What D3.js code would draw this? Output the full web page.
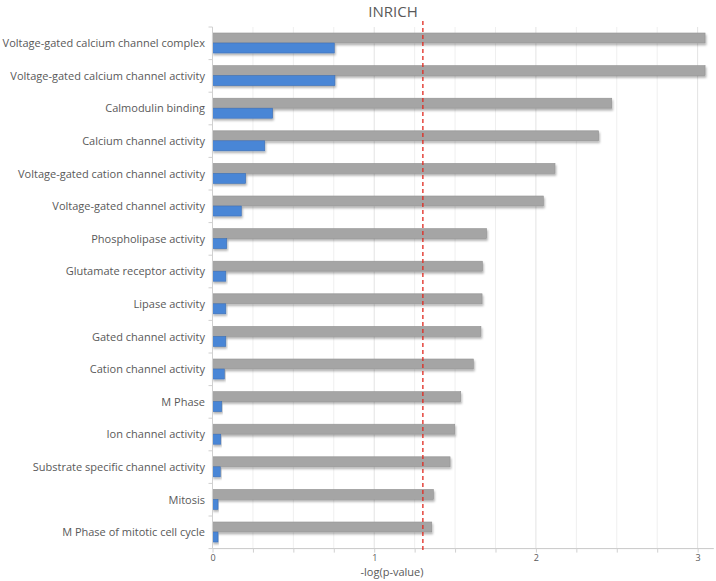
<!DOCTYPE html>
<html>
<head>
<meta charset="utf-8">
<script src="https://cdn.jsdelivr.net/npm/d3@7"></script>
<style>
  body { margin: 0; background: #fff; }
  svg { display: block; font-family: "Open Sans", sans-serif; }
</style>
</head>
<body>
<div id="chart"></div>
<script>
// Data
var categories = [
  "Voltage-gated calcium channel complex",
  "Voltage-gated calcium channel activity",
  "Calmodulin binding",
  "Calcium channel activity",
  "Voltage-gated cation channel activity",
  "Voltage-gated channel activity",
  "Phospholipase activity",
  "Glutamate receptor activity",
  "Lipase activity",
  "Gated channel activity",
  "Cation channel activity",
  "M Phase",
  "Ion channel activity",
  "Substrate specific channel activity",
  "Mitosis",
  "M Phase of mitotic cell cycle"
];
var grayValues = [3.046, 3.046, 2.469, 2.388, 2.118, 2.046, 1.695, 1.669, 1.667, 1.66, 1.613, 1.535, 1.498, 1.469, 1.366, 1.356];
var blueValues = [0.753, 0.757, 0.372, 0.323, 0.205, 0.178, 0.088, 0.082, 0.082, 0.082, 0.073, 0.057, 0.051, 0.048, 0.034, 0.034];
var xTicks = [0, 1, 2, 3];
var threshold = 1.301; // -log10(0.05)

// Layout
var width = 716, height = 581;
var plotLeft = 212.5, plotRight = 713.8, plotTop = 27, plotBottom = 548.6;

var x = d3.scaleLinear().domain([0, 3.1]).range([plotLeft, plotRight]);
var y = d3.scaleBand().domain(categories).range([plotTop, plotBottom]);

var svg = d3.select("#chart").append("svg")
    .attr("width", width)
    .attr("height", height);

// Drop shadow for bars
var defs = svg.append("defs");
defs.append("filter")
    .attr("id", "shadow")
    .attr("x", "-5%").attr("y", "-30%")
    .attr("width", "115%").attr("height", "180%")
  .append("feDropShadow")
    .attr("dx", 1).attr("dy", 2)
    .attr("stdDeviation", 1)
    .attr("flood-color", "#000")
    .attr("flood-opacity", 0.3);

// Gridlines every 0.25
var gridTicks = d3.range(0.25, 3.1, 0.25);
svg.append("g").selectAll("line")
    .data(gridTicks)
    .enter().append("line")
      .attr("x1", function(d) { return x(d); })
      .attr("x2", function(d) { return x(d); })
      .attr("y1", plotTop)
      .attr("y2", plotBottom)
      .attr("stroke", function(d) { return d % 1 === 0 ? "#e3e3e3" : "#efefef"; })
      .attr("stroke-width", 1);

// Title
svg.append("text")
    .attr("x", 393)
    .attr("y", 17)
    .attr("text-anchor", "middle")
    .attr("fill", "#595959")
    .style("font-size", "15px")
    .text("INRICH");

// Bars
var rows = svg.append("g").selectAll("g")
    .data(categories)
    .enter().append("g")
      .attr("transform", function(d) { return "translate(0," + y(d) + ")"; });

rows.append("rect")
    .attr("x", x(0))
    .attr("y", 6)
    .attr("height", 10)
    .attr("width", function(d, i) { return x(grayValues[i]) - x(0); })
    .attr("fill", "#a5a5a5")
    .attr("stroke", "#939393")
    .attr("stroke-width", 0.6)
    .attr("filter", "url(#shadow)");

rows.append("rect")
    .attr("x", x(0))
    .attr("y", 16)
    .attr("height", 10)
    .attr("width", function(d, i) { return x(blueValues[i]) - x(0); })
    .attr("fill", "#4a86d6")
    .attr("stroke", "#3c6fb5")
    .attr("stroke-width", 0.6)
    .attr("filter", "url(#shadow)");

// Category labels
rows.append("text")
    .attr("x", 205)
    .attr("y", y.bandwidth() / 2 + 4)
    .attr("text-anchor", "end")
    .attr("fill", "#595959")
    .style("font-size", "11px")
    .text(function(d) { return d; });

// Y axis line and ticks
svg.append("line")
    .attr("x1", plotLeft).attr("x2", plotLeft)
    .attr("y1", plotTop).attr("y2", plotBottom)
    .attr("stroke", "#d0d0d0");
svg.append("g").selectAll("line")
    .data(categories.concat(["end"]))
    .enter().append("line")
      .attr("x1", plotLeft - 4).attr("x2", plotLeft)
      .attr("y1", function(d, i) { return plotTop + i * y.step(); })
      .attr("y2", function(d, i) { return plotTop + i * y.step(); })
      .attr("stroke", "#d0d0d0");

// X axis
var xAxis = svg.append("g")
    .attr("transform", "translate(0," + plotBottom + ")")
    .call(d3.axisBottom(x).tickValues(d3.range(0, 3.1, 0.25)).tickSize(4)
      .tickFormat(function(d) { return xTicks.indexOf(d) >= 0 ? d : ""; }));
xAxis.select(".domain").attr("stroke", "#c8c8c8").attr("d", "M" + plotLeft + ",0H" + plotRight);
xAxis.selectAll(".tick line").attr("stroke", "#d0d0d0");
xAxis.selectAll(".tick text")
    .attr("fill", "#595959")
    .attr("dy", "0.6em")
    .style("font-size", "9px")
    .style("font-family", "'Open Sans', sans-serif");

svg.append("text")
    .attr("x", 392)
    .attr("y", 576)
    .attr("text-anchor", "middle")
    .attr("fill", "#595959")
    .style("font-size", "11px")
    .text("-log(p-value)");

// Threshold line
svg.append("line")
    .attr("x1", x(threshold)).attr("x2", x(threshold))
    .attr("y1", 21).attr("y2", 552)
    .attr("stroke", "#e0281e")
    .attr("stroke-width", 1.3)
    .attr("stroke-dasharray", "4,3");
</script>
</body>
</html>
